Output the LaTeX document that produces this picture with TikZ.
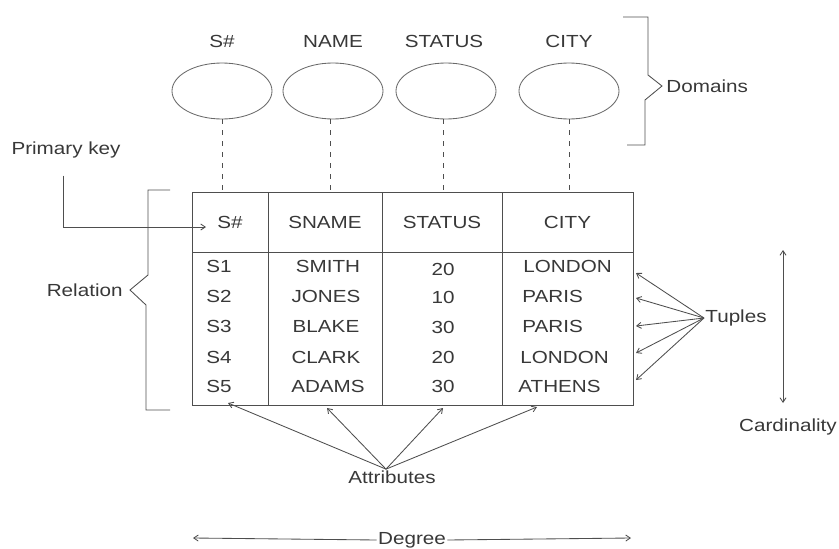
\documentclass[tikz,border=0pt]{standalone}
\usepackage{fontspec}
\setmainfont[FakeStretch=1.18]{Liberation Sans}
\usepackage{tikz}
\usetikzlibrary{arrows.meta, positioning, shapes.geometric}
\definecolor{inkColor}{HTML}{383838}
\definecolor{lineColor}{HTML}{4E4E4E}

\begin{document}
\begin{tikzpicture}[
    x=1pt, y=-1pt, line width=0.85pt,
    lbl/.style={font=\fontsize{17.5}{20}\selectfont, text=inkColor, inner sep=1pt},
    domainOval/.style={ellipse, draw=lineColor!85, minimum width=100pt, minimum height=56pt, inner sep=0pt},
    cell/.style={rectangle, draw=lineColor, lbl},
    dashLink/.style={draw=lineColor, dash pattern=on 5pt off 6pt},
    ptr/.style={-{Straight Barb[length=4.5pt, width=6pt]}, draw=lineColor},
    bothEnds/.style={{Straight Barb[length=4.5pt, width=6pt]}-{Straight Barb[length=4.5pt, width=6pt]}, draw=lineColor},
    bracket/.style={draw=lineColor, line join=miter}
]
\useasboundingbox (0,0) rectangle (839,549);

\node[lbl] (lSNo) at (222,41) {S\#};
\node[lbl] (lName) at (333,41) {NAME};
\node[lbl] (lStatus) at (444,41) {STATUS};
\node[lbl] (lCity) at (569,41) {CITY};

\node[domainOval] (dSNo) at (222,91) {};
\node[domainOval] (dName) at (333,91) {};
\node[domainOval] (dStatus) at (446,91) {};
\node[domainOval] (dCity) at (569,91) {};

\draw[bracket] (623,17) -- (648,17) -- (648,75) -- (662,86) -- (645,100) -- (645,145) -- (627,145);
\node[lbl, anchor=west] (domains) at (665,86) {Domains};

\node[cell, minimum width=76pt, minimum height=60pt] (hSNo) at (230,222) {S\#};
\node[cell, minimum width=114pt, minimum height=60pt] (hName) at (325,222) {SNAME};
\node[cell, minimum width=120pt, minimum height=60pt] (hStatus) at (442,222) {STATUS};
\node[cell, minimum width=131pt, minimum height=60pt] (hCity) at (567.5,222) {CITY};

\node[cell, minimum width=76pt, minimum height=153pt] (cSNo) at (230,328.5) {};
\node[cell, minimum width=114pt, minimum height=153pt] (cName) at (325,328.5) {};
\node[cell, minimum width=120pt, minimum height=153pt] (cStatus) at (442,328.5) {};
\node[cell, minimum width=131pt, minimum height=153pt] (cCity) at (567.5,328.5) {};

\draw[dashLink] (dSNo.south) -- (dSNo.south |- hSNo.north);
\draw[dashLink] ([xshift=-3pt]dName.south) -- ([xshift=-3pt]dName.south |- hName.north);
\draw[dashLink] ([xshift=-3pt]dStatus.south) -- ([xshift=-3pt]dStatus.south |- hStatus.north);
\draw[dashLink] (dCity.south) -- (dCity.south |- hCity.north);

\node[lbl, anchor=west] (s1) at (205,266) {S1};
\node[lbl, anchor=west] (s2) at (205,296) {S2};
\node[lbl, anchor=west] (s3) at (205,326) {S3};
\node[lbl, anchor=west] (s4) at (205,357) {S4};
\node[lbl, anchor=west] (s5) at (205,386) {S5};

\node[lbl] (n1) at (328,266) {SMITH};
\node[lbl] (n2) at (326,296) {JONES};
\node[lbl] (n3) at (326,326) {BLAKE};
\node[lbl] (n4) at (326,357) {CLARK};
\node[lbl] (n5) at (328,386) {ADAMS};

\node[lbl] (st1) at (443,269) {20};
\node[lbl] (st2) at (443,297) {10};
\node[lbl] (st3) at (443,327) {30};
\node[lbl] (st4) at (443,357) {20};
\node[lbl] (st5) at (443,386) {30};

\node[lbl, anchor=west] (c1) at (522,266) {LONDON};
\node[lbl, anchor=west] (c2) at (521,296) {PARIS};
\node[lbl, anchor=west] (c3) at (521,326) {PARIS};
\node[lbl, anchor=west] (c4) at (519,357) {LONDON};
\node[lbl, anchor=west] (c5) at (517,386) {ATHENS};

\node[lbl] (pk) at (66,150) {Primary key};
\coordinate (pkTip) at (206,227);
\draw[ptr] ([yshift=-16pt,xshift=-3pt]pk.south) |- (pkTip);

\draw[bracket] (170,190) -- (148,190) -- (148,275) -- (130,290) -- (146,305) -- (146,410) -- (170,410);
\node[lbl, anchor=east] (rel) at (124,290) {Relation};

\node[lbl, anchor=west] (tup) at (704,318) {Tuples};
\coordinate (t1) at (636,273);
\coordinate (t2) at (636,298);
\coordinate (t3) at (636,326);
\coordinate (t4) at (636,353);
\coordinate (t5) at (636,380);
\draw[ptr] (tup.west) -- (t1);
\draw[ptr] (tup.west) -- (t2);
\draw[ptr] (tup.west) -- (t3);
\draw[ptr] (tup.west) -- (t4);
\draw[ptr] (tup.west) -- (t5);

\coordinate (cardTop) at (783,250);
\coordinate (cardBot) at (783,403);
\draw[bothEnds] (cardTop) -- (cardBot);
\node[lbl] (card) at (788,427) {Cardinality};

\node[lbl] (attr) at (392,477) {Attributes};
\coordinate (a1) at (228,403);
\coordinate (a2) at (327,408);
\coordinate (a3) at (443,408);
\coordinate (a4) at (537,407);
\draw[ptr] ([xshift=-6pt]attr.north) -- (a1);
\draw[ptr] ([xshift=-6pt]attr.north) -- (a2);
\draw[ptr] ([xshift=-6pt]attr.north) -- (a3);
\draw[ptr] ([xshift=-6pt]attr.north) -- (a4);

\node[lbl] (deg) at (412,540) {Degree};
\coordinate (degL) at (193,538);
\coordinate (degR) at (631,538);
\draw[ptr] (deg.west) -- (degL);
\draw[ptr] (deg.east) -- (degR);

\end{tikzpicture}
\end{document}
